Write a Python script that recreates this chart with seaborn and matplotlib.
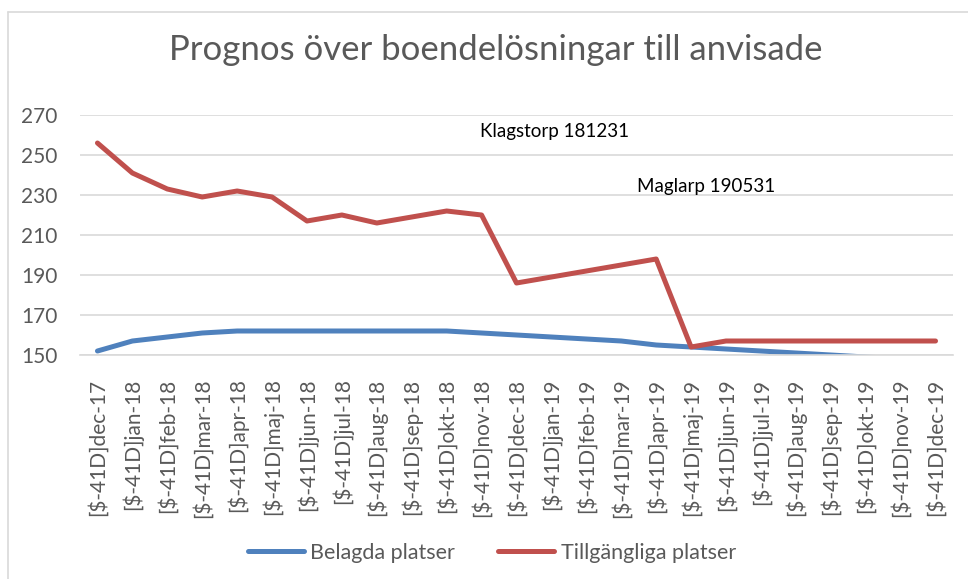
import numpy as np
import pandas as pd
import seaborn as sns
import matplotlib.pyplot as plt
from matplotlib.lines import Line2D

# data
months = ["dec-17", "jan-18", "feb-18", "mar-18", "apr-18", "maj-18", "jun-18",
          "jul-18", "aug-18", "sep-18", "okt-18", "nov-18", "dec-18", "jan-19",
          "feb-19", "mar-19", "apr-19", "maj-19", "jun-19", "jul-19", "aug-19",
          "sep-19", "okt-19", "nov-19", "dec-19"]
tick_labels = ["[$-41D]" + m for m in months]
belagda = [152, 157, 159, 161, 162, 162, 162, 162, 162, 162, 162, 161, 160,
           159, 158, 157, 155, 154, 153, 152, 151, 150, 149, 148, 147]
tillgangliga = [256, 241, 233, 229, 232, 229, 217, 220, 216, 219, 222, 220, 186,
                189, 192, 195, 198, 154, 157, 157, 157, 157, 157, 157, 157]
series_names = ["Belagda platser", "Tillgängliga platser"]
notes = [("Klagstorp 181231", 10.95, 261.7), ("Maglarp 190531", 15.45, 234.2)]

df = pd.DataFrame({
    "idx": list(range(len(months))) * 2,
    "value": belagda + tillgangliga,
    "serie": [series_names[0]] * len(months) + [series_names[1]] * len(months),
})

sns.set_style("white")
plt.rcParams["font.family"] = ["Lato", "DejaVu Sans"]

fig = plt.figure(figsize=(9.68, 5.79), dpi=100)
ax = fig.add_axes([80 / 968, 1 - 355 / 579, 873 / 968, 240 / 579])

colors = {series_names[0]: "#4f81bd", series_names[1]: "#c0504d"}
sns.lineplot(data=df, x="idx", y="value", hue="serie", palette=colors,
             linewidth=3.6, ax=ax, legend=False, sort=False)
for ln in ax.lines:
    ln.set_solid_joinstyle("round")
    ln.set_solid_capstyle("round")

ax.set_xlim(-0.5, len(months) - 0.5)
ax.set_ylim(150, 270)
ax.set_yticks(np.arange(150, 271, 20))
ax.grid(axis="y", color="#d9d9d9", linewidth=1.2)
ax.set_axisbelow(True)
for s in ["top", "right", "left"]:
    ax.spines[s].set_visible(False)
ax.spines["bottom"].set_color("#d9d9d9")
ax.spines["bottom"].set_linewidth(1.2)

ax.set_xticks(range(len(months)))
ax.set_xticklabels(tick_labels, rotation=90, fontsize=15, color="#595959")
ax.set_xticks(np.arange(-0.5, len(months), 1), minor=True)
ax.tick_params(axis="x", which="major", length=0, pad=17)
ax.tick_params(axis="x", which="minor", length=6, color="#d9d9d9", width=1.2)
ax.tick_params(axis="y", length=0, pad=16, labelsize=15, labelcolor="#595959")
ax.set_xlabel("")
ax.set_ylabel("")

for txt, x, y in notes:
    ax.text(x, y, txt, fontsize=13.5, color="black", va="center", ha="left")

fig.text(0.512, 1 - 50 / 579, "Prognos över boendelösningar till anvisade",
         fontsize=25, color="#595959", ha="center", va="center")

handles = [Line2D([], [], color=colors[n], linewidth=3.6, solid_capstyle="round")
           for n in series_names]
fig.legend(handles, series_names, loc="center", bbox_to_anchor=(0.508, 1 - 553 / 579),
           ncol=2, frameon=False, fontsize=15.5, handlelength=2.6, handletextpad=0.3,
           columnspacing=2.0, labelcolor="#595959")

# chart border (left and top visible)
fig.add_artist(Line2D([8 / 968, 8 / 968], [0, 1 - 12 / 579], transform=fig.transFigure,
                      color="#d9d9d9", linewidth=1.2))
fig.add_artist(Line2D([8 / 968, 1], [1 - 12 / 579, 1 - 12 / 579], transform=fig.transFigure,
                      color="#d9d9d9", linewidth=1.2))

fig.savefig("out.png", dpi=100)
